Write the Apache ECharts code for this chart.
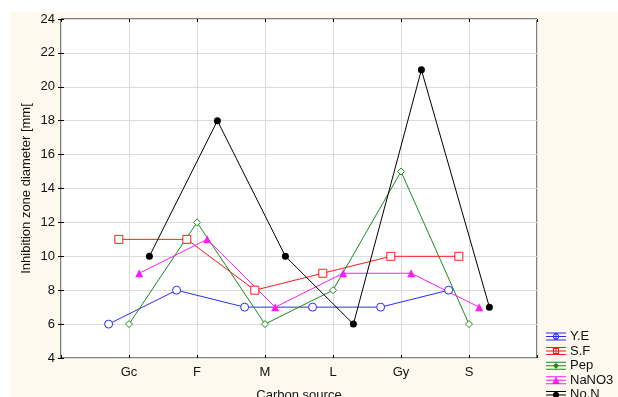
<!DOCTYPE html>
<html>
<head>
<meta charset="utf-8">
<script src="https://cdn.jsdelivr.net/npm/echarts@6/dist/echarts.min.js"></script>
<style>html,body{margin:0;padding:0;background:#fff}#c{width:618px;height:397px}</style>
</head>
<body>
<div id="c"></div>
<script>
var categories = ['Gc', 'F', 'M', 'L', 'Gy', 'S'];
var seriesNames = ['Y.E', 'S.F', 'Pep', 'NaNO3', 'No.N'];
var yeValues = [6, 8, 7, 7, 7, 8];
var sfValues = [11, 11, 8, 9, 10, 10];
var pepValues = [6, 12, 6, 8, 15, 6];
var nano3Values = [9, 11, 7, 9, 9, 7];
var nonValues = [10, 18, 10, 6, 21, 7];
var yTicks = [4, 6, 8, 10, 12, 14, 16, 18, 20, 22, 24];

var allValues = [yeValues, sfValues, pepValues, nano3Values, nonValues];
var colors = ['#2a2aff', '#ff1a1a', '#1a8c1a', '#ff1aff', '#000000'];
var symbols = ['circle', 'rect', 'diamond', 'triangle', 'circle'];
var hollow = [true, true, true, false, false];
var symbolSizes = [8, 8, 7, 8, 7];
var offsets = [-0.3, -0.15, 0, 0.15, 0.3];

function poly(cx, cy, r, n, rev) {
  var pts = [];
  for (var k = 0; k < n; k++) {
    var a = (rev ? -1 : 1) * k * 2 * Math.PI / n;
    pts.push((cx + r * Math.cos(a)).toFixed(2) + ',' + (cy + r * Math.sin(a)).toFixed(2));
  }
  return 'M' + pts.join('L') + 'Z';
}
var caps = 'M0,0h20v1h-20z M0,3.5h20v1h-20z M0,7h20v1h-20z M9.5,0h1v8h-1z ';
var icons = [
  'path://' + caps + poly(10, 4, 3.2, 16, false) + poly(10, 4, 2.2, 16, true),
  'path://' + caps + 'M7,1h6v6h-6z M8,2v4h4v-4z',
  'path://' + caps + 'M10,1l3,3l-3,3l-3,-3z',
  'path://' + caps + 'M10,0.5l3.5,6.5h-7z',
  'path://' + caps + poly(10, 4, 3.2, 16, false)
];

var series = allValues.map(function (vals, i) {
  return {
    name: seriesNames[i],
    type: 'line',
    data: vals.map(function (v, j) { return [j + 1 + offsets[i], v]; }),
    symbol: symbols[i],
    symbolSize: symbolSizes[i],
    showAllSymbol: true,
    lineStyle: { color: colors[i], width: 1 },
    itemStyle: { color: hollow[i] ? '#ffffff' : colors[i], borderColor: colors[i], borderWidth: hollow[i] ? 1 : 0 },
    emphasis: { disabled: true },
    animation: false,
    z: 3
  };
});

var chart = echarts.init(document.getElementById('c'), null, { renderer: 'canvas' });
chart.setOption({
  backgroundColor: '#ffffff',
  animation: false,
  graphic: [{
    type: 'rect', left: 10, top: 12, z: -100,
    shape: { width: 608, height: 385 },
    style: { fill: '#fdf9ef' }, silent: true
  }],
  grid: {
    left: 61, top: 19, right: 81, bottom: 39,
    outerBoundsMode: 'none', containLabel: false,
    show: true, backgroundColor: '#ffffff', borderColor: '#000', borderWidth: 1
  },
  legend: {
    data: seriesNames.map(function (n, i) {
      return { name: n, icon: icons[i], itemStyle: { color: colors[i], borderWidth: 0 } };
    }),
    orient: 'vertical', left: 546, top: 330, height: 200, width: 80,
    itemWidth: 20, itemHeight: 8, itemGap: 1.6,
    textStyle: { fontFamily: 'Liberation Sans', fontSize: 13, color: '#111', padding: [0, 0, 0, -1] },
    padding: 0
  },
  xAxis: [{
    type: 'value', min: 0, max: 7, interval: 1,
    name: 'Carbon source', nameLocation: 'middle', nameGap: 31, nameMoveOverlap: false,
    nameTextStyle: { fontFamily: 'Liberation Sans', fontSize: 13, color: '#111' },
    axisLine: { show: false },
    axisTick: { show: true, inside: true, length: 3, lineStyle: { color: '#000' } },
    axisLabel: {
      fontFamily: 'Liberation Sans', fontSize: 13, color: '#111', margin: 8,
      formatter: function (v) { return categories[v - 1] || ''; }
    },
    splitLine: { show: true, lineStyle: { color: '#dcdcdc', width: 1 } }
  }, {
    type: 'value', min: 0, max: 7, interval: 1, position: 'top',
    axisLine: { show: false },
    axisTick: { show: true, inside: true, length: 3, lineStyle: { color: '#000' } },
    axisLabel: { show: false }, splitLine: { show: false }
  }],
  yAxis: [{
    type: 'value', min: yTicks[0], max: yTicks[yTicks.length - 1], interval: 2,
    name: 'Inhibition zone diameter [mm[', nameLocation: 'middle', nameGap: 28, nameMoveOverlap: false,
    nameTextStyle: { fontFamily: 'Liberation Sans', fontSize: 13, color: '#111' },
    axisLine: { show: false },
    axisTick: { show: true, inside: true, length: 3, lineStyle: { color: '#000' } },
    axisLabel: { fontFamily: 'Liberation Sans', fontSize: 13, color: '#111', margin: 6 },
    splitLine: { show: true, lineStyle: { color: '#dcdcdc', width: 1 } }
  }, {
    type: 'value', min: yTicks[0], max: yTicks[yTicks.length - 1], interval: 2, position: 'right',
    axisLine: { show: false },
    axisTick: { show: true, inside: true, length: 3, lineStyle: { color: '#000' } },
    axisLabel: { show: false }, splitLine: { show: false }
  }],
  series: series
});
</script>
</body>
</html>
